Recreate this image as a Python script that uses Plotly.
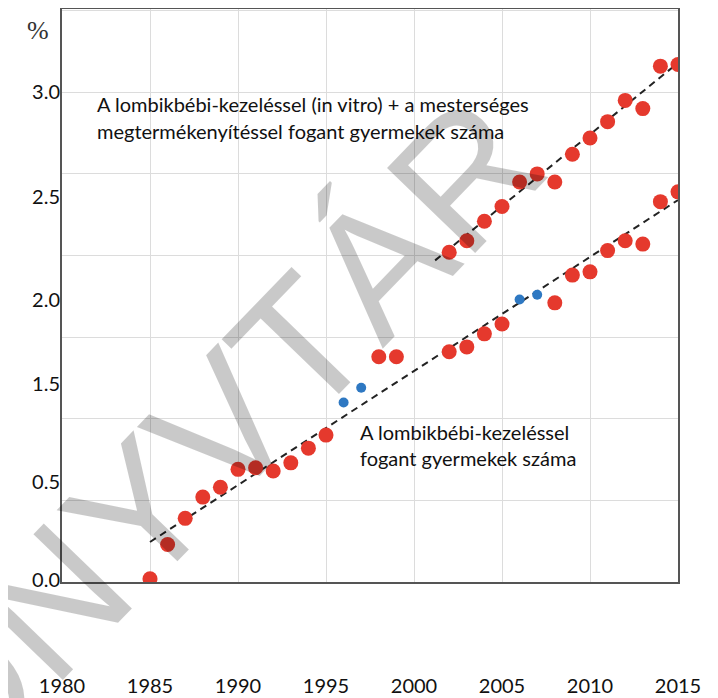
import plotly.graph_objects as go

# lombikbébi (IVF) - red points
ivf_years = [1985, 1986, 1987, 1988, 1989, 1990, 1991, 1992, 1993, 1994, 1995,
             2002, 2003, 2004, 2005, 2008, 2009, 2010, 2011, 2012, 2013, 2014, 2015]
ivf_vals = [0.02, 0.23, 0.39, 0.52, 0.58, 0.69, 0.70, 0.68, 0.73, 0.82, 0.90,
            1.41, 1.44, 1.52, 1.58, 1.71, 1.88, 1.90, 2.03, 2.09, 2.07, 2.33, 2.39]

# the few blue points
blue_years = [1996, 1997, 2006, 2007]
blue_vals = [1.10, 1.19, 1.73, 1.76]

# lombikbébi + mesterséges megtermékenyítés
all_years = [1998, 1999, 2002, 2003, 2004, 2005, 2006, 2007, 2008, 2009,
             2010, 2011, 2012, 2013, 2014, 2015]
all_vals = [1.38, 1.38, 2.02, 2.09, 2.21, 2.30, 2.45, 2.50, 2.45, 2.62,
            2.72, 2.82, 2.95, 2.90, 3.16, 3.17]

# trend lines
trend_low_x = [1985, 2015]
trend_low_y = [0.245, 2.34]
trend_up_x = [2001.2, 2015]
trend_up_y = [1.97, 3.18]

# y tick labels as printed (they sit off the grid in the original)
ytick_text = ["0.0", "0.5", "1.5", "2.0", "2.5", "3.0"]
ytick_pos = [0.01, 0.61, 1.21, 1.73, 2.36, 3.0]

RED = "#E5392D"
BLUE = "#2E78C2"
FONT = "Lato"

fig = go.Figure()
fig.add_trace(go.Scatter(x=trend_low_x, y=trend_low_y, mode="lines",
                         line=dict(color="#222222", width=2, dash="7px,5px")))
fig.add_trace(go.Scatter(x=trend_up_x, y=trend_up_y, mode="lines",
                         line=dict(color="#222222", width=2, dash="7px,5px")))
fig.add_trace(go.Scatter(x=blue_years, y=blue_vals, mode="markers",
                         marker=dict(color=BLUE, size=10, symbol="circle")))
fig.add_trace(go.Scatter(x=ivf_years, y=ivf_vals, mode="markers",
                         marker=dict(color=RED, size=15)))
fig.add_trace(go.Scatter(x=all_years, y=all_vals, mode="markers",
                         marker=dict(color=RED, size=15)))
# invisible trace for the second y axis carrying the labels
fig.add_trace(go.Scatter(x=[1980], y=[0], yaxis="y2", mode="markers",
                         marker=dict(opacity=0), hoverinfo="skip"))

fig.update_layout(
    width=710, height=690,
    margin=dict(l=54, r=40, t=1, b=116),
    plot_bgcolor="white", paper_bgcolor="white",
    showlegend=False,
    font=dict(family=FONT, size=20, color="#111111"),
    xaxis=dict(range=[1980, 2015], tick0=1980, dtick=5, showgrid=True,
               gridcolor="#dcdcdc", gridwidth=1, showline=True, mirror=True,
               linecolor="#555555", linewidth=2, zeroline=False,
               ticks="", ticklabelstandoff=85, automargin=False,
               tickfont=dict(family=FONT, size=20, color="#111111")),
    yaxis=dict(range=[0, 3.51], dtick=0.5, showgrid=True, gridcolor="#dcdcdc",
               gridwidth=1, showline=True, mirror=True, linecolor="#555555",
               linewidth=2, zeroline=False, showticklabels=False, ticks="",
               automargin=False),
    yaxis2=dict(range=[0, 3.51], overlaying="y", side="left", showgrid=False,
                zeroline=False, showline=False, tickmode="array",
                tickvals=ytick_pos, ticktext=ytick_text, ticks="",
                ticklabelstandoff=1, automargin=False,
                tickfont=dict(family=FONT, size=20, color="#111111")),
)

text_font = dict(family=FONT, size=20, color="#111111")
fig.add_annotation(x=1981.9, y=2.93, xref="x", yref="y", xanchor="left",
                   yanchor="middle", showarrow=False, font=text_font,
                   text="A lombikbébi-kezeléssel (in vitro) + a mesterséges")
fig.add_annotation(x=1981.9, y=2.76, xref="x", yref="y", xanchor="left",
                   yanchor="middle", showarrow=False, font=text_font,
                   text="megtermékenyítéssel fogant gyermekek száma")
fig.add_annotation(x=1996.8, y=0.92, xref="x", yref="y", xanchor="left",
                   yanchor="middle", showarrow=False, font=text_font,
                   text="A lombikbébi-kezeléssel")
fig.add_annotation(x=1996.8, y=0.76, xref="x", yref="y", xanchor="left",
                   yanchor="middle", showarrow=False, font=text_font,
                   text="fogant gyermekek száma")
fig.add_annotation(x=-0.039, y=0.962, xref="paper", yref="paper",
                   xanchor="center", yanchor="middle",
                   showarrow=False, text="%",
                   font=dict(family="Liberation Serif", size=26, color="#333333"))

# watermark
fig.add_annotation(x=0.175, y=0.178, xref="paper", yref="paper",
                   xanchor="center", yanchor="middle",
                   showarrow=False, text="KÖNYVTÁR", textangle=-46,
                   font=dict(family="Liberation Sans", size=178,
                             color="rgba(0,0,0,0.21)"))

fig.write_html("out.html")
